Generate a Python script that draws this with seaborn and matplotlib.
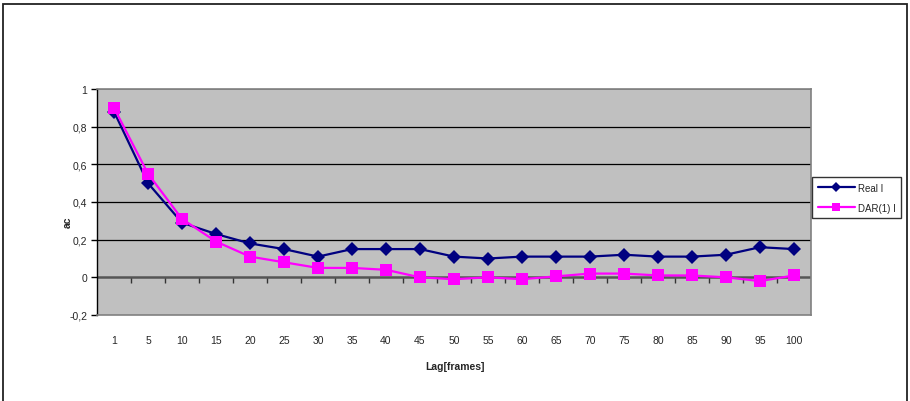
import matplotlib
matplotlib.use("Agg")
import matplotlib.pyplot as plt
from matplotlib.patches import Rectangle
from matplotlib.lines import Line2D
import seaborn as sns
import pandas as pd

lags = ["1", "5", "10", "15", "20", "25", "30", "35", "40", "45", "50",
        "55", "60", "65", "70", "75", "80", "85", "90", "95", "100"]
real_i = [0.88, 0.50, 0.29, 0.23, 0.18, 0.15, 0.11, 0.15, 0.15, 0.15, 0.11,
          0.10, 0.11, 0.11, 0.11, 0.12, 0.11, 0.11, 0.12, 0.16, 0.15]
dar_i = [0.90, 0.55, 0.31, 0.19, 0.11, 0.08, 0.05, 0.05, 0.04, 0.00, -0.01,
         0.00, -0.01, 0.005, 0.02, 0.02, 0.01, 0.01, 0.00, -0.02, 0.01]
series_names = ["Real I", "DAR(1) I"]
y_ticks = [-0.2, 0.0, 0.2, 0.4, 0.6, 0.8, 1.0]
y_ticklabels = ["-0,2", "0", "0,2", "0,4", "0,6", "0,8", "1"]

df = pd.concat([
    pd.DataFrame({"lag": lags, "ac": real_i, "series": series_names[0]}),
    pd.DataFrame({"lag": lags, "ac": dar_i, "series": series_names[1]}),
], ignore_index=True)

sns.set_style("white")
plt.rcParams["font.family"] = ["Liberation Sans", "DejaVu Sans"]

fig = plt.figure(figsize=(9.10, 4.02), dpi=100)
ax = fig.add_axes([97 / 910, (402 - 316) / 402, (811 - 97) / 910, (316 - 90) / 402])
ax.set_facecolor("#C0C0C0")

palette = {"Real I": "#000080", "DAR(1) I": "#FF00FF"}
markers = {"Real I": "D", "DAR(1) I": "s"}
sns.lineplot(data=df, x="lag", y="ac", hue="series", style="series",
             palette=palette, markers=markers, dashes=False, sort=False,
             linewidth=1.6, markersize=8, markeredgewidth=0, ax=ax,
             legend=False, zorder=5)
# diamonds look slightly smaller than squares
for line in ax.lines:
    if line.get_marker() == "D":
        line.set_markersize(7.5)

ax.set_xlim(-0.5, len(lags) - 0.5)
ax.set_ylim(-0.2, 1.0)
ax.set_yticks(y_ticks)
ax.set_yticklabels(y_ticklabels)
ax.set_xticks(range(len(lags)))
ax.set_xticklabels(lags)

# horizontal gridlines
for yv in y_ticks[2:-1]:
    ax.axhline(yv, color="black", linewidth=0.9, zorder=1)
ax.axhline(1.0, color="#808080", linewidth=1.2, zorder=1)
# zero line
ax.axhline(0.0, color="#555555", linewidth=1.8, zorder=2)

for side in ["top", "right", "bottom"]:
    ax.spines[side].set_color("#808080")
    ax.spines[side].set_linewidth(1.2)
ax.spines["left"].set_color("black")
ax.spines["left"].set_linewidth(1.0)

ax.tick_params(axis="y", direction="out", length=4, width=1, color="black",
               labelsize=7.5, pad=3, left=True)
ax.tick_params(axis="x", length=0, labelsize=7.5, pad=14.5, bottom=True)

# category boundary tick marks on the zero line
sec = ax.secondary_xaxis((0.0 + 0.2) / 1.2)
sec.set_xticks([i + 0.5 for i in range(len(lags) - 1)])
sec.set_xticklabels([])
sec.tick_params(axis="x", direction="out", length=4, width=1, color="#333333")
sec.spines["bottom"].set_visible(False)

ax.set_xlabel("Lag[frames]", fontsize=7.5, fontweight="bold")
ax.set_ylabel("ac", fontsize=7.5, fontweight="bold")
ax.xaxis.set_label_coords(0.501, -0.226)
ax.yaxis.set_label_coords(-0.041, 0.416)
ax.xaxis.label.set_va("center")
ax.yaxis.label.set_va("center")

# legend
handles = [
    Line2D([], [], color="#000080", marker="D", markersize=5.5, linewidth=1.6,
           markeredgewidth=0),
    Line2D([], [], color="#FF00FF", marker="s", markersize=6, linewidth=1.6,
           markeredgewidth=0),
]
leg = fig.legend(handles, series_names, loc="upper left",
                 bbox_to_anchor=(812 / 910, (402 - 178) / 402),
                 fontsize=7, frameon=True, fancybox=False, edgecolor="black",
                 handlelength=3.8, borderpad=0.6, labelspacing=1.0,
                 handletextpad=0.3, borderaxespad=0)
leg.get_frame().set_linewidth(1.0)

# outer chart border
fig.patches.append(Rectangle((3 / 910, -0.02), (907 - 3) / 910, (402 - 5) / 402 + 0.02,
                             transform=fig.transFigure, fill=False,
                             edgecolor="#222222", linewidth=1.3))

fig.savefig("out.png", dpi=100)
